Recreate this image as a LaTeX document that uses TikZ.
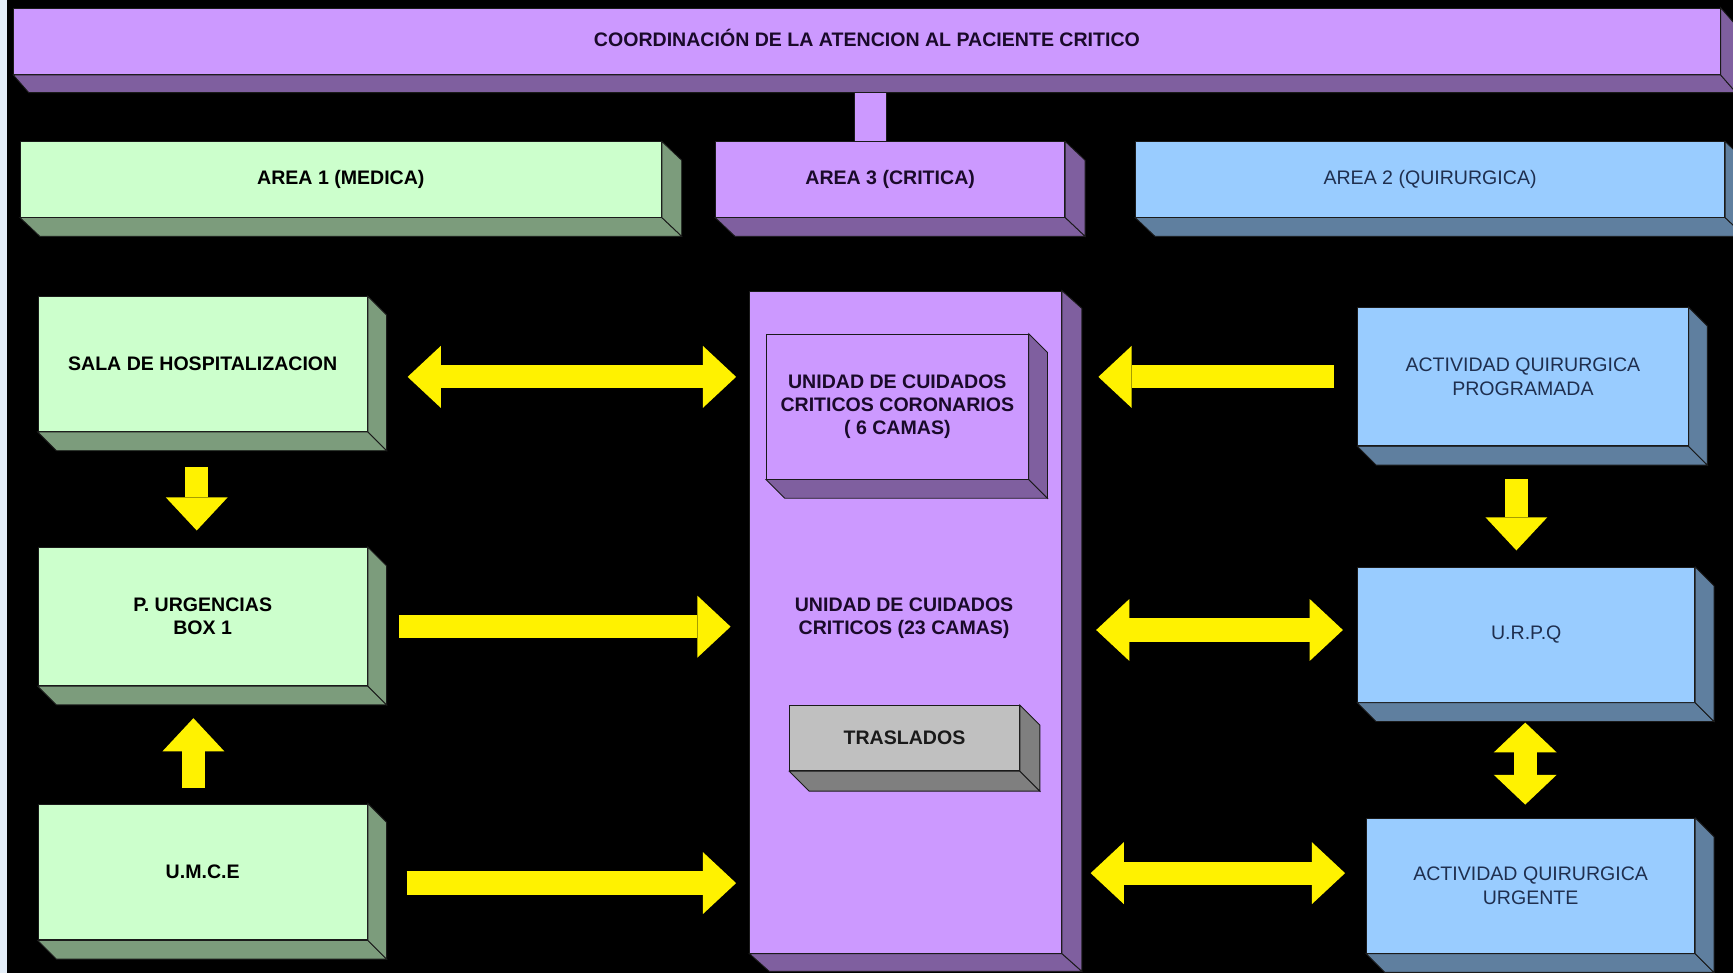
\documentclass[tikz,border=0pt]{standalone}
\usepackage{fontspec}
\setmainfont{Liberation Sans}
\usetikzlibrary{arrows.meta,calc}
\definecolor{grnF}{HTML}{CCFFCC}
\definecolor{grnD}{HTML}{7C9C7C}
\definecolor{purF}{HTML}{CC99FF}
\definecolor{purD}{HTML}{7F5F9F}
\definecolor{bluF}{HTML}{99CCFF}
\definecolor{bluD}{HTML}{5F7F9F}
\definecolor{gryF}{HTML}{C0C0C0}
\definecolor{gryD}{HTML}{7F7F7F}
\definecolor{edgec}{HTML}{1A1A1A}
\definecolor{navyc}{HTML}{1F2F4F}
\definecolor{txtp}{HTML}{1A0A2A}
\definecolor{stripc}{HTML}{E4EEF8}
\newcommand\mkdepth[4]{%
  \filldraw[draw=edgec,line width=0.8pt,fill=#2] (#1.south west) -- (#1.south east) -- ([shift={(#3,#4)}]#1.south east) -- ([shift={(#3,#4)}]#1.south west) -- cycle;
  \filldraw[draw=edgec,line width=0.8pt,fill=#2] (#1.north east) -- ([shift={(#3,#4)}]#1.north east) -- ([shift={(#3,#4)}]#1.south east) -- (#1.south east) -- cycle;}
\tikzset{
  boxbase/.style={draw=edgec, line width=0.8pt, inner sep=0pt, anchor=north west, align=center,
    font=\fontsize{17.7}{21}\selectfont\bfseries},
  gbox/.style={boxbase, fill=grnF, text=black},
  pbox/.style={boxbase, fill=purF, text=txtp},
  bbox/.style={boxbase, fill=bluF, text=navyc, font=\fontsize{17.7}{21}\selectfont},
  gybox/.style={boxbase, fill=gryF, text=edgec},
  tipy/.tip={Triangle[length=30pt,width=56pt,line width=0pt]},
  tipv/.tip={Triangle[length=27pt,width=57pt,line width=0pt]},
  yarr/.style={draw=yellow, line width=21pt, -tipy},
  ydbl/.style={draw=yellow, line width=21pt, tipy-tipy},
  yvdbl/.style={draw=yellow, line width=21pt, tipv-tipv},
}
\begin{document}
\begin{tikzpicture}[x=1pt,y=-1pt]
\useasboundingbox (0,0) rectangle (1568,880);
\clip (0,0) rectangle (1568,880);
\fill[black] (0,0) rectangle (1568,880);
\fill[stripc] (0,0) rectangle (6,880);

% top bar
\node[pbox, minimum width=1544pt, minimum height=60pt, text depth=6pt] (top) at (12,7) {COORDINACIÓN DE LA ATENCION AL PACIENTE CRITICO};
\mkdepth{top}{purD}{14}{16}
% stem
\filldraw[draw=edgec,line width=0.8pt,fill=purF] (773,84) rectangle (802,128);

% area headers
\node[gbox, minimum width=580pt, minimum height=68pt] (area1) at (18,128) {AREA 1 (MEDICA)};
\mkdepth{area1}{grnD}{18}{17}
\node[pbox, minimum width=316pt, minimum height=68pt] (area3) at (647,128) {AREA 3 (CRITICA)};
\mkdepth{area3}{purD}{18}{17}
\node[bbox, minimum width=533pt, minimum height=68pt] (area2) at (1027,128) {AREA 2 (QUIRURGICA)};
\mkdepth{area2}{bluD}{18}{17}

% left column
\node[gbox, minimum width=298pt, minimum height=122pt] (sala) at (34,268) {SALA DE HOSPITALIZACION};
\mkdepth{sala}{grnD}{17}{17}
\node[gbox, minimum width=298pt, minimum height=125pt] (purg) at (34,495) {P. URGENCIAS\\BOX 1};
\mkdepth{purg}{grnD}{17}{17}
\node[gbox, minimum width=298pt, minimum height=123pt] (umce) at (34,727) {U.M.C.E};
\mkdepth{umce}{grnD}{17}{17}

% central column
\node[pbox, minimum width=282pt, minimum height=599pt] (col) at (678,263) {};
\mkdepth{col}{purD}{18}{16}
\node[pbox, minimum width=237pt, minimum height=131pt] (coro) at (693,302) {UNIDAD DE CUIDADOS\\CRITICOS CORONARIOS\\( 6 CAMAS)};
\mkdepth{coro}{purD}{17}{17}
\node[font=\fontsize{17.7}{21}\selectfont\bfseries, text=txtp, align=center] (uci) at (818,559) {UNIDAD DE CUIDADOS\\CRITICOS (23 CAMAS)};
\node[gybox, minimum width=208pt, minimum height=59pt] (tras) at (714,638) {TRASLADOS};
\mkdepth{tras}{gryD}{18}{18}

% right column
\node[bbox, minimum width=299pt, minimum height=125pt] (prog) at (1228,278) {ACTIVIDAD QUIRURGICA\\PROGRAMADA};
\mkdepth{prog}{bluD}{17}{17}
\node[bbox, minimum width=305pt, minimum height=122pt] (urpq) at (1228,513) {U.R.P.Q};
\mkdepth{urpq}{bluD}{17}{17}
\node[bbox, minimum width=297pt, minimum height=122pt] (urg) at (1236,740) {ACTIVIDAD QUIRURGICA\\URGENTE};
\mkdepth{urg}{bluD}{17}{17}

% horizontal arrows
\draw[ydbl] ([xshift=36pt]sala.east |- 0,341) -- ([xshift=-12pt]col.west |- 0,341);
\draw[yarr] ([xshift=28pt]purg.east |- 0,567) -- ([xshift=-17pt]col.west |- 0,567);
\draw[yarr] ([xshift=35pt]umce.east |- 0,799) -- ([xshift=-12pt]col.west |- 0,799);
\draw[yarr] ([xshift=-21pt]prog.west |- 0,341) -- ([xshift=33pt]col.east |- 0,341);
\draw[ydbl] ([xshift=31pt]col.east |- 0,570) -- ([xshift=-13pt]urpq.west |- 0,570);
\draw[ydbl] ([xshift=26pt]col.east |- 0,790) -- ([xshift=-19pt]urg.west |- 0,790);

% vertical arrows (canvas yshift: negative = down)
\draw[yarr] ([yshift=-32pt]sala.south -| 178,0) -- ([yshift=15pt]purg.north -| 178,0);
\draw[yarr] ([yshift=14pt]umce.north -| 175,0) -- ([yshift=-29pt]purg.south -| 175,0);
\draw[yarr] ([yshift=-30pt]prog.south -| 1372,0) -- ([yshift=15pt]urpq.north -| 1372,0);
\draw[yvdbl] ([yshift=-18pt]urpq.south -| 1380,0) -- ([yshift=12pt]urg.north -| 1380,0);
\end{tikzpicture}
\end{document}
